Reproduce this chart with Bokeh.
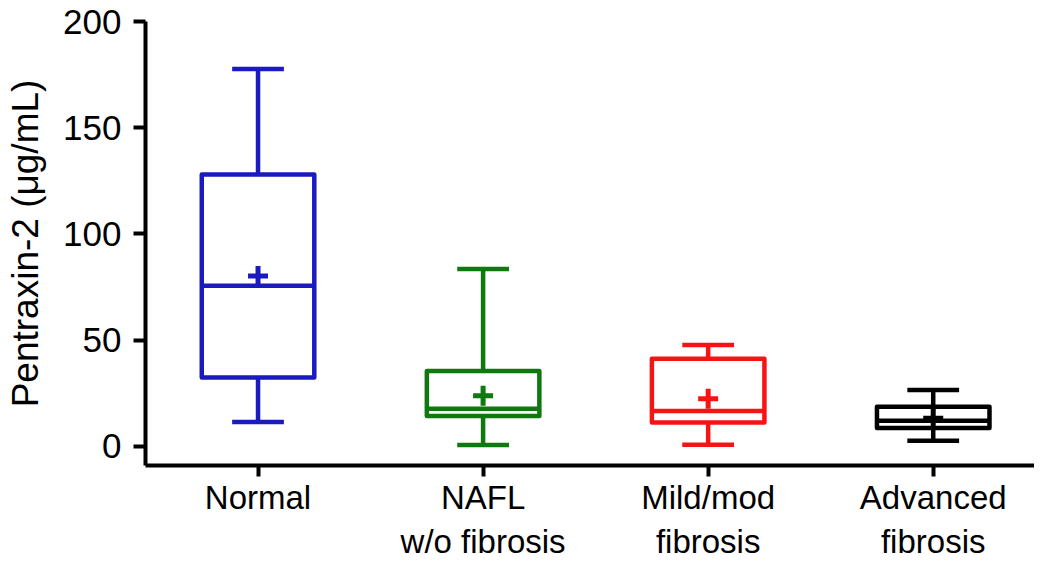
from bokeh.plotting import figure
from bokeh.models import Range1d, FixedTicker, ColumnDataSource
from bokeh.embed import file_html
from bokeh.resources import INLINE

categories = ["Normal", "NAFL\nw/o fibrosis", "Mild/mod\nfibrosis", "Advanced\nfibrosis"]
whisker_low = [11.4, 0.6, 0.7, 2.6]
q1 = [32.3, 14.2, 11.2, 8.6]
median = [75.5, 17.6, 16.6, 12.0]
q3 = [128.0, 35.4, 41.2, 18.6]
whisker_high = [177.6, 83.4, 47.7, 26.4]
mean = [80.2, 23.8, 22.3, 13.2]
colors = ["#1A1AC0", "#0F780F", "#F51414", "#000000"]
y_ticks = [0, 50, 100, 150, 200]

FONT = "Liberation Sans"
BOX_HALF = 0.25
CAP_HALF = 0.115
LW = 4.5

xs = list(range(len(categories)))
src = ColumnDataSource(dict(
    x=xs,
    left=[x - BOX_HALF for x in xs],
    right=[x + BOX_HALF for x in xs],
    capl=[x - CAP_HALF for x in xs],
    capr=[x + CAP_HALF for x in xs],
    lo=whisker_low, q1=q1, med=median, q3=q3, hi=whisker_high, mean=mean,
    color=colors,
))

p = figure(width=1034, height=562, output_backend="svg", toolbar_location=None,
           x_range=Range1d(-0.5, 3.45), y_range=Range1d(-9.1, 200),
           min_border_left=145, min_border_top=21, min_border_right=0, min_border_bottom=90)
p.outline_line_color = None
p.grid.visible = False
p.background_fill_color = "white"

# whiskers
p.segment(x0="x", y0="q3", x1="x", y1="hi", source=src, line_color="color", line_width=LW)
p.segment(x0="x", y0="lo", x1="x", y1="q1", source=src, line_color="color", line_width=LW)
# caps
p.segment(x0="capl", y0="hi", x1="capr", y1="hi", source=src, line_color="color", line_width=LW)
p.segment(x0="capl", y0="lo", x1="capr", y1="lo", source=src, line_color="color", line_width=LW)
# boxes
p.quad(left="left", right="right", bottom="q1", top="q3", source=src, fill_color=None,
       line_color="color", line_width=LW, line_join="round")
# medians
p.segment(x0="left", y0="med", x1="right", y1="med", source=src, line_color="color", line_width=LW)
# means
p.scatter(x="x", y="mean", source=src, marker="cross", size=20, line_color="color", line_width=5)

# axes
p.xaxis.ticker = FixedTicker(ticks=xs)
p.xaxis.major_label_overrides = {i: c for i, c in enumerate(categories)}
p.yaxis.ticker = FixedTicker(ticks=y_ticks)
p.yaxis.axis_label = "Pentraxin-2 (μg/mL)"

for ax in (p.xaxis[0], p.yaxis[0]):
    ax.axis_line_width = 4
    ax.axis_line_color = "black"
    ax.major_tick_line_width = 4
    ax.major_tick_line_color = "black"
    ax.major_tick_out = 12
    ax.major_tick_in = 0
    ax.minor_tick_line_color = None
    ax.major_label_text_font = FONT
    ax.major_label_text_color = "black"
    ax.axis_label_text_font = FONT
    ax.axis_label_text_font_style = "normal"
    ax.axis_label_text_color = "black"

p.yaxis.major_label_text_font_size = "35px"
p.yaxis.axis_label_text_font_size = "37px"
p.yaxis.major_label_standoff = 12
p.yaxis.axis_label_standoff = 14

p.xaxis.major_label_text_font_size = "33px"
p.xaxis.major_tick_out = 11
p.xaxis.major_label_standoff = 2

open("out.html", "w").write(file_html(p, INLINE))
